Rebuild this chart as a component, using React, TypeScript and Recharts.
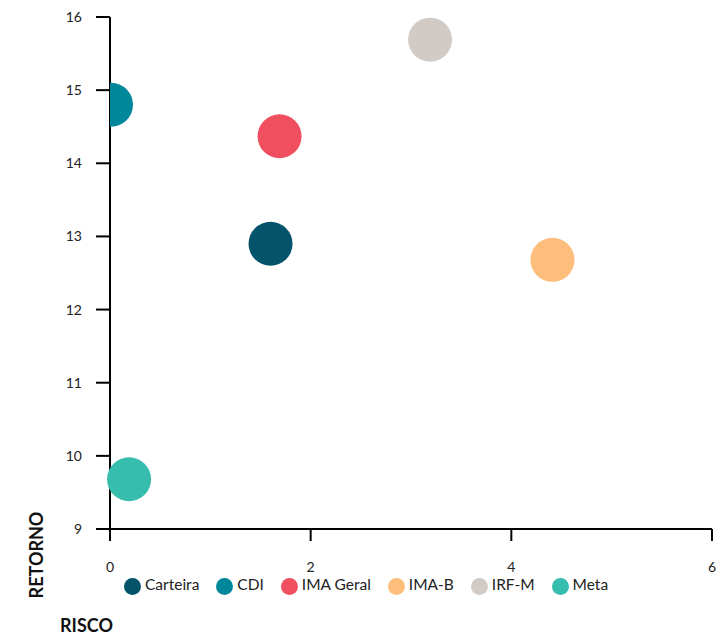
import { ScatterChart, Scatter, XAxis, YAxis, Legend } from 'recharts'

const categories = ['Carteira', 'CDI', 'IMA Geral', 'IMA-B', 'IRF-M', 'Meta']
const risco = [1.6, 0.01, 1.69, 4.41, 3.19, 0.19]
const retorno = [12.9, 14.8, 14.37, 12.68, 15.69, 9.68]
const colors = ['#03536b', '#00889a', '#f04f5f', '#fdbe7c', '#d1cac5', '#36bdae']
const xTicks = [0, 2, 4, 6]
const yTicks = [9, 10, 11, 12, 13, 14, 15, 16]

const font = 'Lato, "Open Sans", sans-serif'
const tickStyle = { fontSize: 14, fill: '#222', fontFamily: font }

const Bubble = (props: any) => <circle cx={props.cx} cy={props.cy} r={22} fill={props.fill} />

export default function App() {
  return (
    <div style={{ position: 'relative', width: 718, height: 627, fontFamily: font }}>
      <ScatterChart width={718} height={627} margin={{ top: 9, right: 14, left: 0, bottom: 22 }}>
        <XAxis
          type="number"
          dataKey="x"
          domain={[0, 6]}
          ticks={xTicks}
          tickSize={12}
          tickMargin={21}
          height={60}
          stroke="#000"
          strokeWidth={2}
          tick={tickStyle}
          tickLine={{ stroke: '#000', strokeWidth: 2 }}
        />
        {/* hidden copy of the x axis that clips the CDI bubble at the y axis */}
        <XAxis xAxisId="clip" type="number" dataKey="x" domain={[0, 6]} allowDataOverflow hide />
        <YAxis
          type="number"
          dataKey="y"
          domain={[9, 16]}
          ticks={yTicks}
          width={102}
          tickSize={14}
          tickMargin={14}
          stroke="#000"
          strokeWidth={2}
          tick={tickStyle}
          tickLine={{ stroke: '#000', strokeWidth: 2 }}
        />
        <Legend
          verticalAlign="bottom"
          align="left"
          iconType="circle"
          iconSize={17}
          itemSorter={(item: any) => categories.indexOf(item.value)}
          wrapperStyle={{ left: 116, top: 564, width: 'auto', fontSize: 15.5, fontFamily: font, lineHeight: '24px' }}
          formatter={(value) => <span style={{ color: '#222', marginRight: 7 }}>{value}</span>}
        />
        {categories.map((name, i) => (
          <Scatter
            key={name}
            name={name}
            xAxisId={name === 'CDI' ? 'clip' : 0}
            data={[{ x: risco[i], y: retorno[i] }]}
            fill={colors[i]}
            shape={Bubble}
            isAnimationActive={false}
          />
        ))}
      </ScatterChart>
      <div
        style={{
          position: 'absolute',
          left: 27.5,
          top: 547,
          transform: 'translate(-50%, -50%) rotate(-90deg)',
          fontWeight: 700,
          fontSize: 18,
          lineHeight: 'normal',
          color: '#111',
        }}
      >
        RETORNO
      </div>
      <div
        style={{
          position: 'absolute',
          left: 52,
          top: 606,
          fontWeight: 700,
          fontSize: 18,
          lineHeight: 'normal',
          color: '#111',
        }}
      >
        RISCO
      </div>
    </div>
  )
}
